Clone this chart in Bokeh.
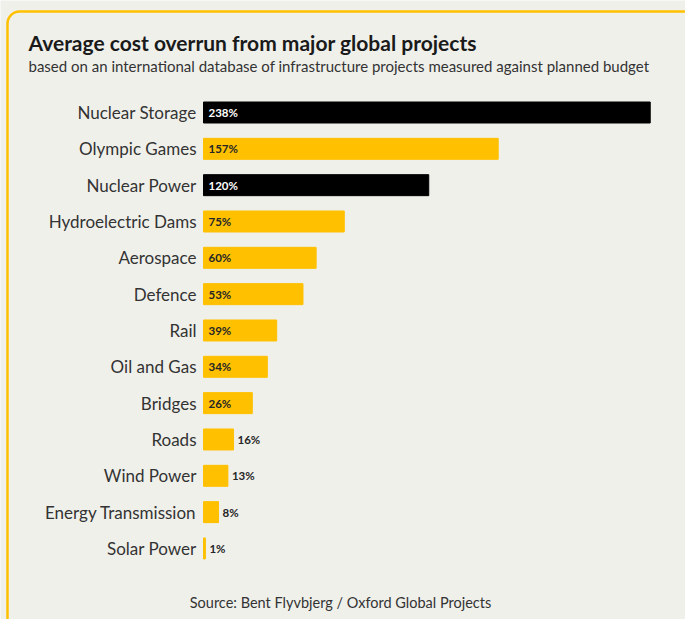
from bokeh.plotting import figure
from bokeh.models import ColumnDataSource, Label, BoxAnnotation, Range1d
from bokeh.core.properties import value
from bokeh.embed import file_html
from bokeh.resources import INLINE

# ---- data ----
categories = ["Nuclear Storage", "Olympic Games", "Nuclear Power", "Hydroelectric Dams",
              "Aerospace", "Defence", "Rail", "Oil and Gas", "Bridges", "Roads",
              "Wind Power", "Energy Transmission", "Solar Power"]
overrun = [238, 157, 120, 75, 60, 53, 39, 34, 26, 16, 13, 8, 1]
nuclear = [True, False, True, False, False, False, False, False, False, False, False, False, False]
value_labels = [f"{v}%" for v in overrun]

title_text = "Average cost overrun from major global projects"
subtitle_text = "based on an international database of infrastructure projects measured against planned budget"
source_text = "Source: Bent Flyvbjerg / Oxford Global Projects"

# ---- layout constants (pixels) ----
W, H = 685, 619
BG = "#f0f0eb"
GOLD = "#FFC000"
X0 = 203            # pixel where bars start
PX_PER_UNIT = 1.877
ROW0 = 112          # pixel centre of first row (from top)
ROW_STEP = 36.33
BAR_H = 21 / ROW_STEP
FONT = "Lato"
INSIDE_MIN = 20

x_start = -X0 / PX_PER_UNIT
x_end = (W - X0) / PX_PER_UNIT
y_top = -ROW0 / ROW_STEP
y_bottom = (H - ROW0) / ROW_STEP

rows = list(range(len(categories)))
bar_colors = ["#000000" if n else GOLD for n in nuclear]
inside = [v >= INSIDE_MIN for v in overrun]
lab_x = [0 if ins else v for v, ins in zip(overrun, inside)]
lab_off = [5 if ins else 4 for ins in inside]
lab_col = [("#ffffff" if n else "#262626") if ins else "#262626" for n, ins in zip(nuclear, inside)]

src = ColumnDataSource(dict(row=rows, cat=categories, val=overrun, color=bar_colors,
                            lx=lab_x, loff=lab_off, lcol=lab_col, ltxt=value_labels,
                            zero=[0] * len(rows)))

p = figure(width=W, height=H, output_backend="svg", toolbar_location=None,
           x_range=Range1d(x_start, x_end), y_range=Range1d(y_bottom, y_top),
           min_border=0, min_border_left=0, min_border_right=0,
           min_border_top=0, min_border_bottom=0,
           background_fill_color=BG, border_fill_color=BG, outline_line_color=None)
p.axis.visible = False
p.grid.visible = False

# frame border (yellow, rounded corner)
p.add_layout(BoxAnnotation(left=7, right=W + 40, top=H - 11, bottom=-40,
                           left_units="screen", right_units="screen",
                           top_units="screen", bottom_units="screen",
                           fill_alpha=0, line_color=GOLD, line_alpha=1.0, line_width=2.5,
                           border_radius=12, level="underlay"))

p.hbar(y="row", left=0, right="val", height=BAR_H, color="color", source=src)

# category labels
p.text(x="zero", y="row", text="cat", source=src, x_offset=-7, text_align="right",
       text_baseline="middle", text_font=value(FONT), text_font_size="17px",
       text_color="#333333")

# value labels
p.text(x="lx", y="row", text="ltxt", source=src, x_offset="loff", text_align="left",
       text_baseline="middle", text_font=value(FONT), text_font_size="11.5px",
       text_font_style="bold", text_color="lcol")

def ty(px_from_top):
    return H - px_from_top

p.add_layout(Label(x=28, y=ty(42), x_units="screen", y_units="screen", text=title_text,
                   text_font=FONT, text_font_size="21px", text_font_style="bold",
                   text_color="#1a1a1a", text_baseline="middle"))
p.add_layout(Label(x=28, y=ty(65), x_units="screen", y_units="screen", text=subtitle_text,
                   text_font=FONT, text_font_size="15px",
                   text_color="#333333", text_baseline="middle"))
p.add_layout(Label(x=340, y=ty(602), x_units="screen", y_units="screen", text=source_text,
                   text_font=FONT, text_font_size="14.5px", text_align="center",
                   text_color="#333333", text_baseline="middle"))

open("out.html", "w").write(file_html(p, INLINE))
